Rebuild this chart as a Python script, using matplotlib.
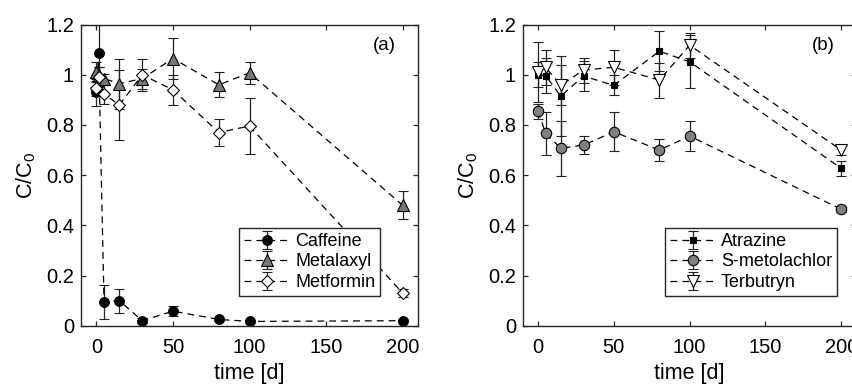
import matplotlib.pyplot as plt

plt.rcParams['font.family'] = ['Liberation Sans', 'DejaVu Sans']

# (a) pharmaceuticals / metalaxyl
t_a = [0, 1.5, 5, 15, 30, 50, 80, 100, 200]
caffeine = [0.93, 1.085, 0.095, 0.10, 0.02, 0.058, 0.025, 0.017, 0.02]
caffeine_err = [0.055, 0.13, 0.067, 0.048, 0.01, 0.02, 0.005, 0.005, 0.005]
metalaxyl = [1.01, 1.0, 0.985, 0.965, 0.985, 1.065, 0.96, 1.008, 0.48]
metalaxyl_err = [0.04, 0.03, 0.02, 0.10, 0.04, 0.08, 0.05, 0.045, 0.055]
metformin = [0.946, 0.99, 0.923, 0.88, 1.0, 0.94, 0.77, 0.796, 0.13]
metformin_err = [0.03, 0.04, 0.04, 0.14, 0.065, 0.06, 0.055, 0.11, 0.015]

# (b) herbicides
t_b = [0, 5, 15, 30, 50, 80, 100, 200]
atrazine = [1.0, 0.997, 0.915, 0.995, 0.958, 1.094, 1.052, 0.627]
atrazine_err = [0.05, 0.07, 0.16, 0.06, 0.04, 0.08, 0.105, 0.03]
smetolachlor = [0.855, 0.767, 0.707, 0.72, 0.773, 0.70, 0.756, 0.464]
smetolachlor_err = [0.03, 0.085, 0.11, 0.035, 0.078, 0.045, 0.06, 0.01]
terbutryn = [1.01, 1.03, 0.958, 1.019, 1.03, 0.979, 1.118, 0.70]
terbutryn_err = [0.12, 0.07, 0.08, 0.05, 0.07, 0.07, 0.05, 0.02]

fig = plt.figure(figsize=(8.53, 3.85), dpi=100)
ax1 = fig.add_axes([0.095, 0.154, 0.395, 0.782])
ax2 = fig.add_axes([0.613, 0.154, 0.391, 0.782])

common = dict(ls=(0, (5.5, 4)), color='black', lw=0.9, ecolor='#222222',
              elinewidth=0.9, capsize=3.5, capthick=0.9, mec='black', mew=0.8)

ax1.errorbar(t_a, caffeine, yerr=caffeine_err, marker='o', ms=7, mfc='black',
             label='Caffeine', **common)
ax1.errorbar(t_a, metalaxyl, yerr=metalaxyl_err, marker='^', ms=8, mfc='#777777',
             label='Metalaxyl', **common)
ax1.errorbar(t_a, metformin, yerr=metformin_err, marker='D', ms=6.5, mfc='white',
             label='Metformin', **common)

ax2.errorbar(t_b, atrazine, yerr=atrazine_err, marker='s', ms=5, mfc='black',
             label='Atrazine', **common)
ax2.errorbar(t_b, smetolachlor, yerr=smetolachlor_err, marker='o', ms=7.5, mfc='#808080',
             label='S-metolachlor', **common)
ax2.errorbar(t_b, terbutryn, yerr=terbutryn_err, marker='v', ms=9, mfc='white',
             label='Terbutryn', **common)

for ax, tag, leg_x in [(ax1, '(a)', 0.887), (ax2, '(b)', 0.941)]:
    ax.set_xlim(-10, 210)
    ax.set_ylim(0, 1.2)
    ax.set_xticks([0, 50, 100, 150, 200])
    ax.set_yticks([0, 0.2, 0.4, 0.6, 0.8, 1.0, 1.2])
    ax.set_yticklabels(['0', '0.2', '0.4', '0.6', '0.8', '1', '1.2'])
    ax.tick_params(direction='in', top=True, right=True, length=3.5, width=0.9,
                   color='#262626', labelsize=14.5)
    ax.tick_params(axis='x', pad=9)
    ax.tick_params(axis='y', pad=5)
    for s in ax.spines.values():
        s.set_linewidth(1.0)
        s.set_color('#262626')
    ax.set_xlabel('time [d]', fontsize=15.5, labelpad=4)
    ax.set_ylabel('C/C$_\\mathregular{0}$', fontsize=15.5, labelpad=6)
    ax.text(0.90, 0.93, tag, transform=ax.transAxes, ha='center', va='center',
            fontsize=13.5)
    leg = ax.legend(loc='lower right', bbox_to_anchor=(leg_x, 0.10),
                    fancybox=False, framealpha=1, edgecolor='#262626',
                    handlelength=2.6, handletextpad=0.25, borderpad=0.25,
                    labelspacing=0.2, fontsize=13, borderaxespad=0)
    leg.get_frame().set_linewidth(1.0)

fig.savefig('out.png', dpi=100)
